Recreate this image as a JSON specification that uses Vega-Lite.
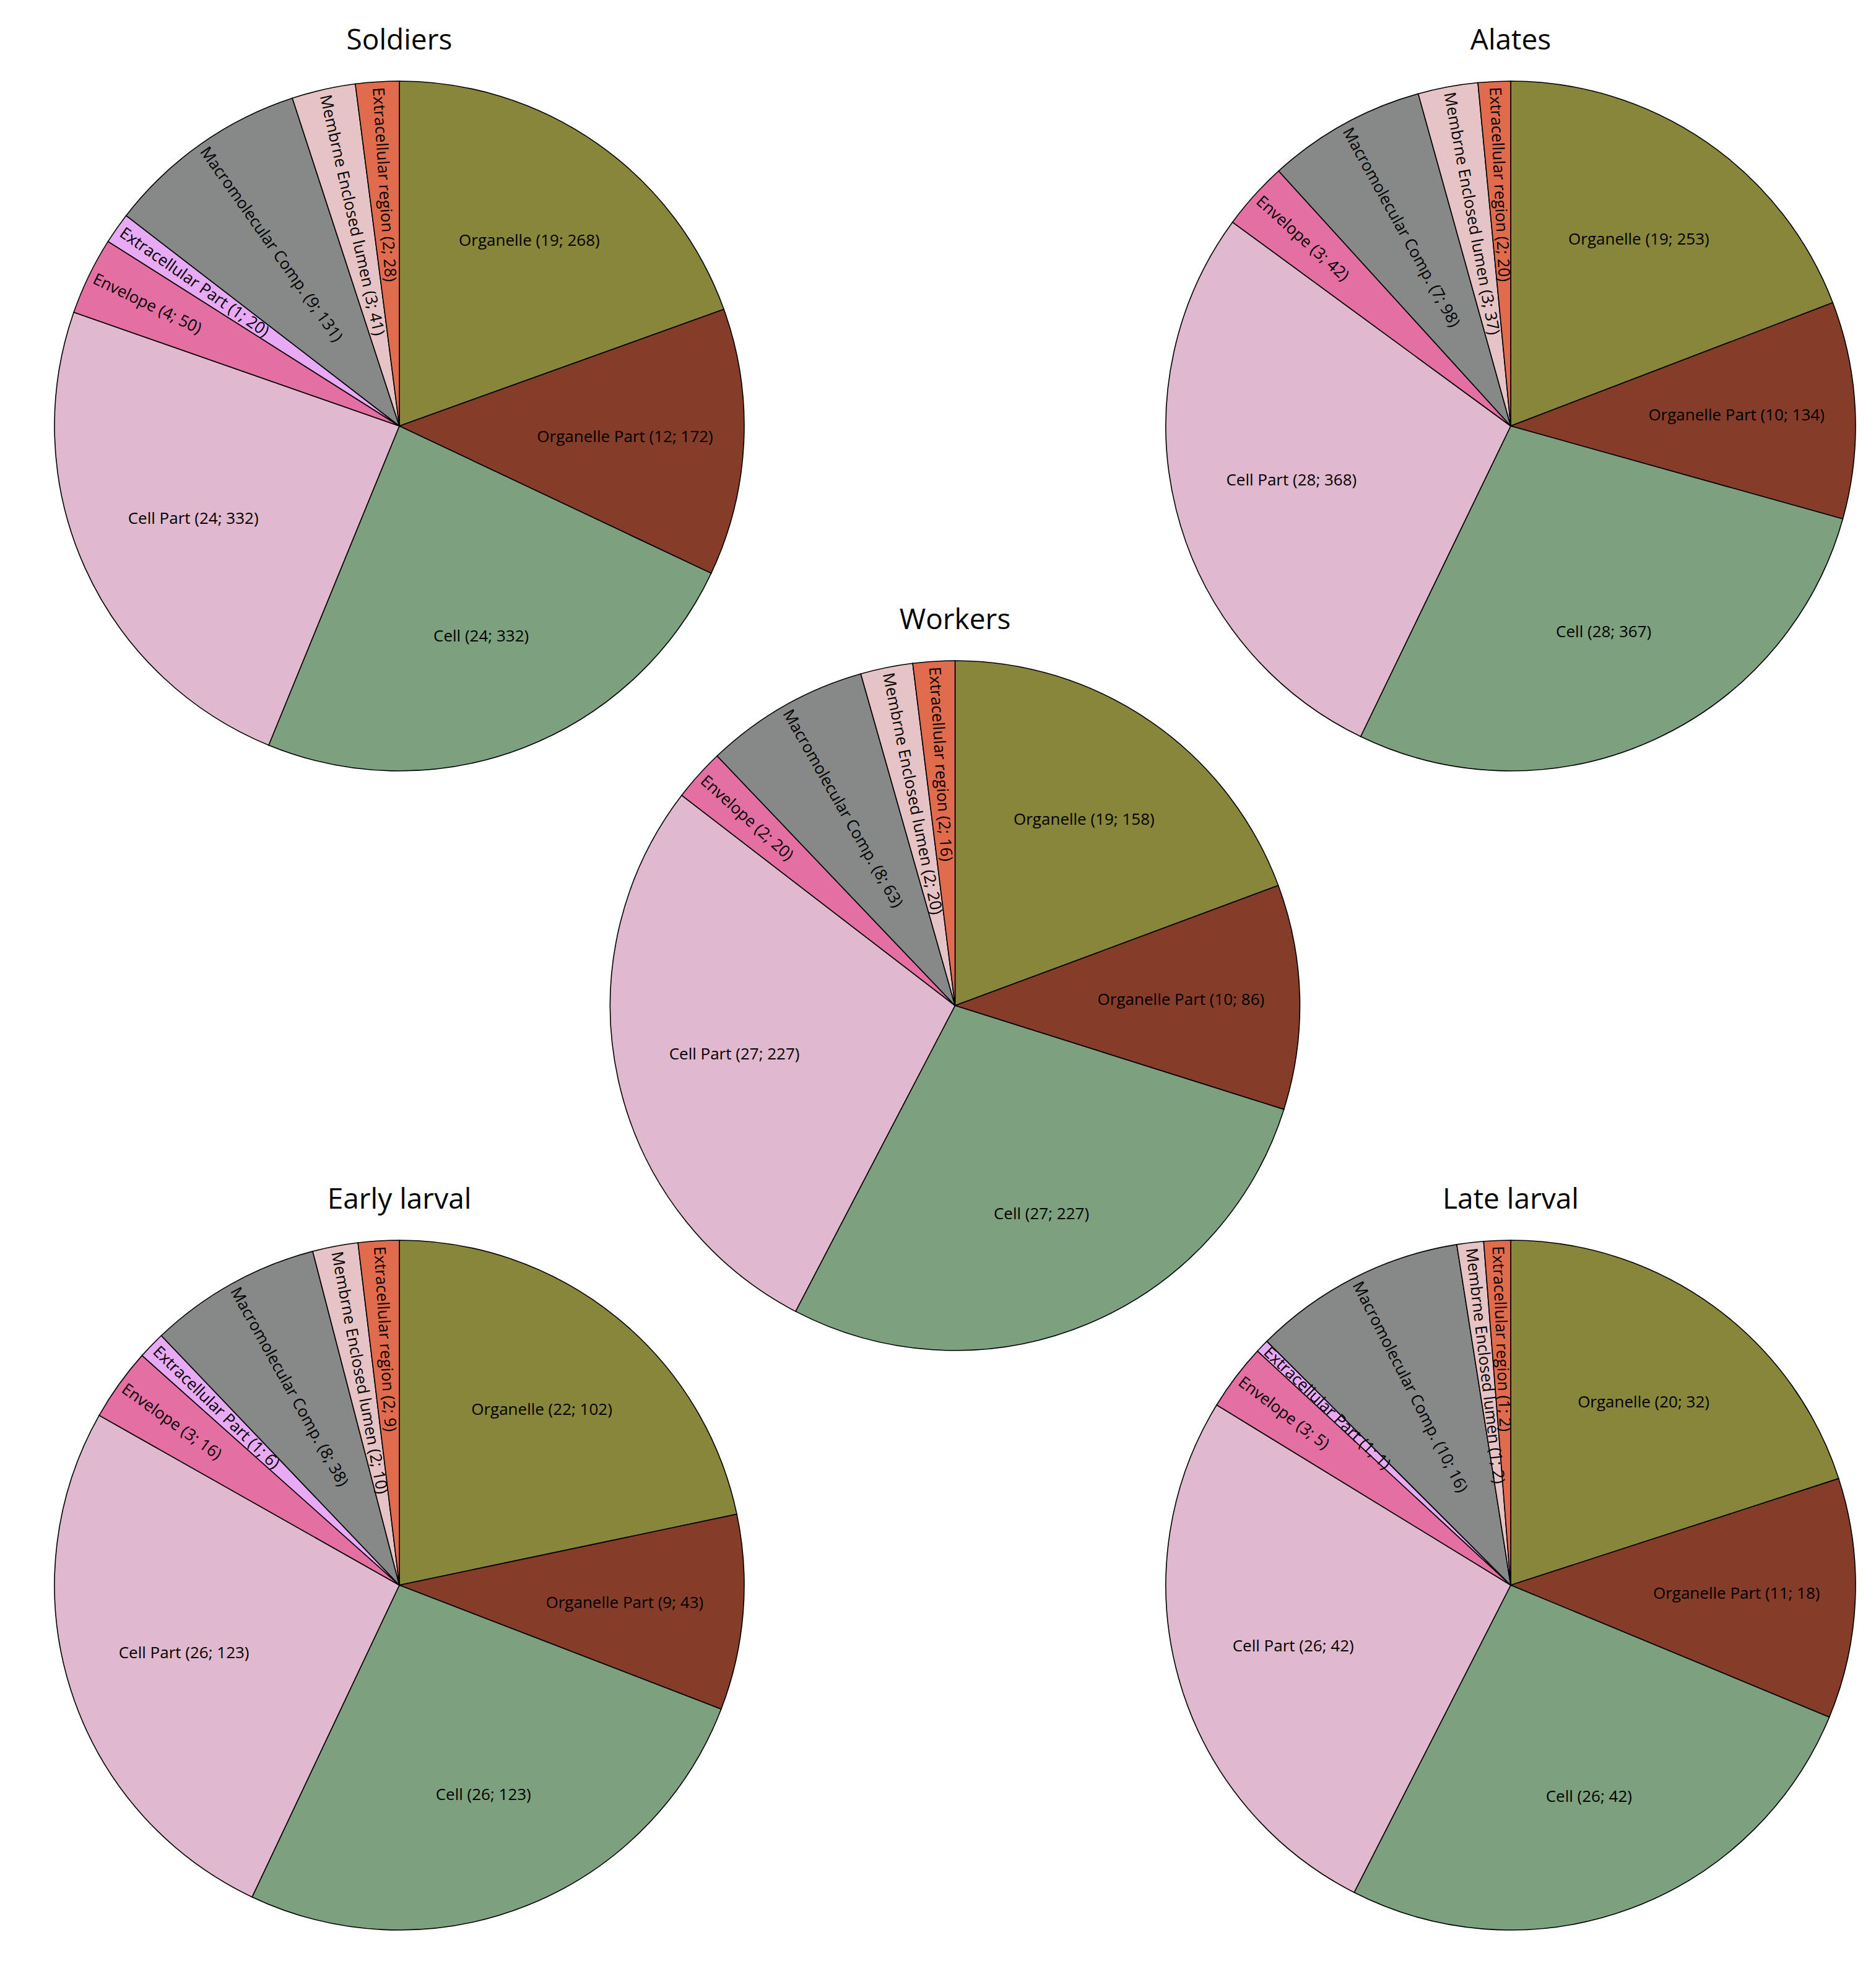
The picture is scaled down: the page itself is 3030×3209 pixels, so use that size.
{
  "$schema": "https://vega.github.io/schema/vega-lite/v6.json",
  "width": 3030,
  "height": 3209,
  "autosize": {"type": "fit", "contains": "padding"},
  "padding": 0,
  "background": "white",
  "config": {"view": {"stroke": null}, "font": "Open Sans"},
  "data": {
    "values": [
      {"stage": "Soldiers", "col": "left", "row": "top", "cat": "Organelle", "pct": 19, "n": 268},
      {"stage": "Soldiers", "col": "left", "row": "top", "cat": "Organelle Part", "pct": 12, "n": 172},
      {"stage": "Soldiers", "col": "left", "row": "top", "cat": "Cell", "pct": 24, "n": 332},
      {"stage": "Soldiers", "col": "left", "row": "top", "cat": "Cell Part", "pct": 24, "n": 332},
      {"stage": "Soldiers", "col": "left", "row": "top", "cat": "Envelope", "pct": 4, "n": 50},
      {"stage": "Soldiers", "col": "left", "row": "top", "cat": "Extracellular Part", "pct": 1, "n": 20},
      {"stage": "Soldiers", "col": "left", "row": "top", "cat": "Macromolecular Comp.", "pct": 9, "n": 131},
      {"stage": "Soldiers", "col": "left", "row": "top", "cat": "Membrne Enclosed lumen", "pct": 3, "n": 41},
      {"stage": "Soldiers", "col": "left", "row": "top", "cat": "Extracellular region", "pct": 2, "n": 28},

      {"stage": "Alates", "col": "right", "row": "top", "cat": "Organelle", "pct": 19, "n": 253},
      {"stage": "Alates", "col": "right", "row": "top", "cat": "Organelle Part", "pct": 10, "n": 134},
      {"stage": "Alates", "col": "right", "row": "top", "cat": "Cell", "pct": 28, "n": 367},
      {"stage": "Alates", "col": "right", "row": "top", "cat": "Cell Part", "pct": 28, "n": 368},
      {"stage": "Alates", "col": "right", "row": "top", "cat": "Envelope", "pct": 3, "n": 42},
      {"stage": "Alates", "col": "right", "row": "top", "cat": "Macromolecular Comp.", "pct": 7, "n": 98},
      {"stage": "Alates", "col": "right", "row": "top", "cat": "Membrne Enclosed lumen", "pct": 3, "n": 37},
      {"stage": "Alates", "col": "right", "row": "top", "cat": "Extracellular region", "pct": 2, "n": 20},

      {"stage": "Workers", "col": "middle", "row": "middle", "cat": "Organelle", "pct": 19, "n": 158},
      {"stage": "Workers", "col": "middle", "row": "middle", "cat": "Organelle Part", "pct": 10, "n": 86},
      {"stage": "Workers", "col": "middle", "row": "middle", "cat": "Cell", "pct": 27, "n": 227},
      {"stage": "Workers", "col": "middle", "row": "middle", "cat": "Cell Part", "pct": 27, "n": 227},
      {"stage": "Workers", "col": "middle", "row": "middle", "cat": "Envelope", "pct": 2, "n": 20},
      {"stage": "Workers", "col": "middle", "row": "middle", "cat": "Macromolecular Comp.", "pct": 8, "n": 63},
      {"stage": "Workers", "col": "middle", "row": "middle", "cat": "Membrne Enclosed lumen", "pct": 2, "n": 20},
      {"stage": "Workers", "col": "middle", "row": "middle", "cat": "Extracellular region", "pct": 2, "n": 16},

      {"stage": "Early larval", "col": "left", "row": "bottom", "cat": "Organelle", "pct": 22, "n": 102},
      {"stage": "Early larval", "col": "left", "row": "bottom", "cat": "Organelle Part", "pct": 9, "n": 43},
      {"stage": "Early larval", "col": "left", "row": "bottom", "cat": "Cell", "pct": 26, "n": 123},
      {"stage": "Early larval", "col": "left", "row": "bottom", "cat": "Cell Part", "pct": 26, "n": 123},
      {"stage": "Early larval", "col": "left", "row": "bottom", "cat": "Envelope", "pct": 3, "n": 16},
      {"stage": "Early larval", "col": "left", "row": "bottom", "cat": "Extracellular Part", "pct": 1, "n": 6},
      {"stage": "Early larval", "col": "left", "row": "bottom", "cat": "Macromolecular Comp.", "pct": 8, "n": 38},
      {"stage": "Early larval", "col": "left", "row": "bottom", "cat": "Membrne Enclosed lumen", "pct": 2, "n": 10},
      {"stage": "Early larval", "col": "left", "row": "bottom", "cat": "Extracellular region", "pct": 2, "n": 9},

      {"stage": "Late larval", "col": "right", "row": "bottom", "cat": "Organelle", "pct": 20, "n": 32},
      {"stage": "Late larval", "col": "right", "row": "bottom", "cat": "Organelle Part", "pct": 11, "n": 18},
      {"stage": "Late larval", "col": "right", "row": "bottom", "cat": "Cell", "pct": 26, "n": 42},
      {"stage": "Late larval", "col": "right", "row": "bottom", "cat": "Cell Part", "pct": 26, "n": 42},
      {"stage": "Late larval", "col": "right", "row": "bottom", "cat": "Envelope", "pct": 3, "n": 5},
      {"stage": "Late larval", "col": "right", "row": "bottom", "cat": "Extracellular Part", "pct": 1, "n": 1},
      {"stage": "Late larval", "col": "right", "row": "bottom", "cat": "Macromolecular Comp.", "pct": 10, "n": 16},
      {"stage": "Late larval", "col": "right", "row": "bottom", "cat": "Membrne Enclosed lumen", "pct": 1, "n": 2},
      {"stage": "Late larval", "col": "right", "row": "bottom", "cat": "Extracellular region", "pct": 1, "n": 2}
    ]
  },
  "transform": [
    {"calculate": "indexof(['Organelle','Organelle Part','Cell','Cell Part','Envelope','Extracellular Part','Macromolecular Comp.','Membrne Enclosed lumen','Extracellular region'], datum.cat)", "as": "ord"},
    {"stack": "n", "groupby": ["stage"], "sort": [{"field": "ord", "order": "ascending"}], "offset": "normalize", "as": ["t0", "t1"]},
    {"calculate": "(datum.t0 + datum.t1) / 2", "as": "tm"},
    {"calculate": "(90 + datum.tm * 360) % 360", "as": "ang"},
    {"calculate": "datum.cat + ' (' + datum.pct + '; ' + datum.n + ')'", "as": "label"}
  ],
  "encoding": {
    "x": {"field": "col", "type": "nominal", "scale": {"type": "point", "domain": ["left", "middle", "right"], "range": [645, 2440], "padding": 0}, "axis": null},
    "y": {"field": "row", "type": "nominal", "scale": {"type": "point", "domain": ["top", "middle", "bottom"], "range": [688, 2560], "padding": 0}, "axis": null}
  },
  "layer": [
    {
      "mark": {"type": "arc", "radius": 557, "stroke": "black", "strokeWidth": 1.6},
      "encoding": {
        "theta": {"field": "t0", "type": "quantitative", "scale": {"domain": [0, 1], "range": [0, 6.283185307]}},
        "theta2": {"field": "t1"},
        "color": {
          "field": "cat", "type": "nominal", "legend": null,
          "scale": {
            "domain": ["Organelle", "Organelle Part", "Cell", "Cell Part", "Envelope", "Extracellular Part", "Macromolecular Comp.", "Membrne Enclosed lumen", "Extracellular region"],
            "range": ["#87863b", "#853d2a", "#7da07f", "#e1b9ce", "#e36fa3", "#e8aaf5", "#878989", "#e6c3c4", "#e06b4d"]
          }
        }
      }
    },
    {
      "transform": [{"filter": "datum.ord < 4"}],
      "mark": {"type": "text", "radius": 365, "fontSize": 26, "color": "black", "align": "center", "baseline": "middle"},
      "encoding": {
        "theta": {"field": "tm", "type": "quantitative"},
        "text": {"field": "label"}
      }
    },
    {
      "transform": [{"filter": "datum.ord >= 4"}],
      "mark": {"type": "text", "radius": 548, "fontSize": 26, "color": "black", "align": "left", "baseline": "middle"},
      "encoding": {
        "theta": {"field": "tm", "type": "quantitative"},
        "angle": {"field": "ang", "type": "quantitative", "scale": null},
        "text": {"field": "label"}
      }
    },
    {
      "transform": [{"filter": "datum.cat == 'Organelle'"}],
      "mark": {"type": "text", "fontSize": 46, "color": "black", "align": "center", "baseline": "middle", "dy": -622},
      "encoding": {"text": {"field": "stage"}}
    }
  ]
}
